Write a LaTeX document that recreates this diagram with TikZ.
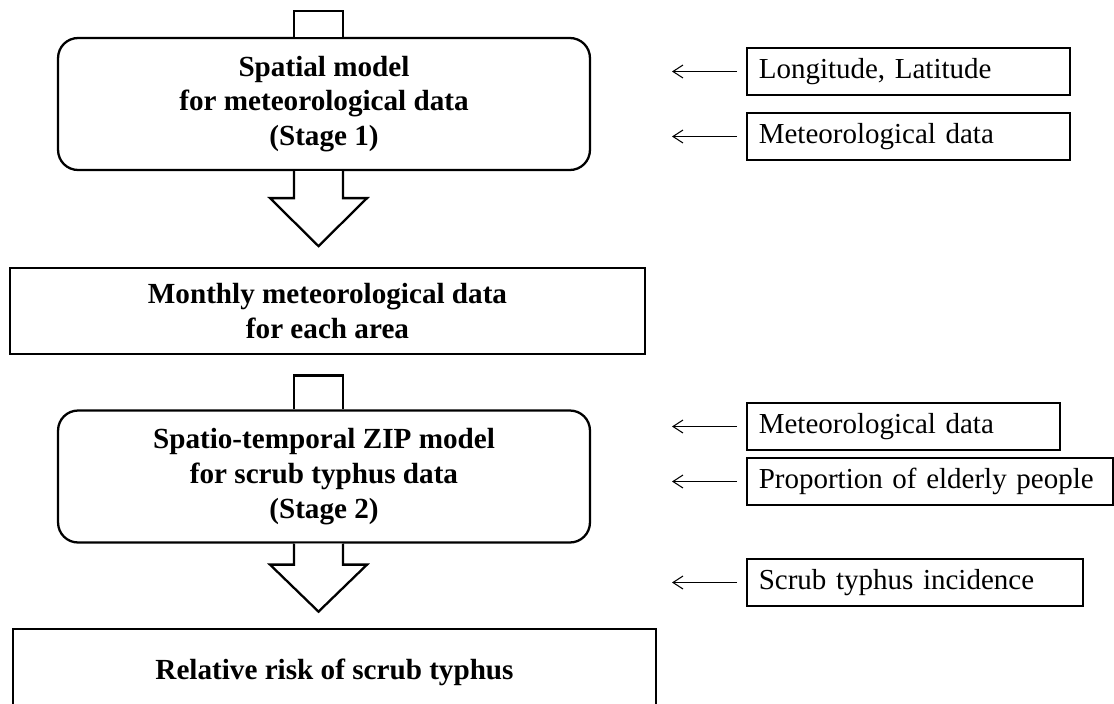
\documentclass[tikz,border=0pt]{standalone}
\usepackage{fontspec}
\setmainfont{Liberation Serif}
\usetikzlibrary{arrows.meta, positioning, calc}

\begin{document}
\begin{tikzpicture}[
  x=0.02cm, y=-0.02cm,
  stagebox/.style={draw, line width=1.3pt, rounded corners=0.4cm, fill=white, minimum width=10.64cm, minimum height=2.64cm, align=center, font=\bfseries\fontsize{16.6}{19.8}\selectfont},
  outbox/.style={draw, line width=1.3pt, fill=white, align=center, font=\bfseries\fontsize{16.6}{19.8}\selectfont},
  inbox/.style={draw, line width=0.9pt, text width=#1, inner xsep=0.24cm, minimum height=0.94cm, align=left, anchor=west, font=\fontsize{16.5}{19}\selectfont},
  hollow/.style={draw, line width=1.3pt, fill=white, line join=miter},
  inarrow/.style={-{Straight Barb[length=2mm, width=2.6mm]}, line width=0.6pt, shorten <=0.18cm}
]
\clip (0,0) rectangle (1114,703);

% Stage 1
\node[stagebox] (s1) at (324,104) {Spatial model\\for meteorological data\\(Stage 1)};
\node[outbox, minimum width=12.7cm, minimum height=1.72cm] (mon) at (327.5,311) {Monthly meteorological data\\for each area};

% Stage 2
\node[stagebox] (s2) at (324,476.5) {Spatio-temporal ZIP model\\for scrub typhus data\\(Stage 2)};
\node[outbox, minimum width=12.86cm, minimum height=1.72cm] (risk) at (334.5,672) {Relative risk of scrub typhus};

% Hollow block arrows
\draw[hollow] ([xshift=-0.6cm]s1.north) -- ++(0,-26) -- ++(49,0) -- ++(0,26);
\draw[hollow] ([xshift=-0.6cm]s1.south) -- ++(0,27) -- ++(-24,0) -- ++(48.5,48) -- ++(48.5,-48) -- ++(-24,0) -- ++(0,-27);
\draw[hollow] ([xshift=-0.6cm]s2.north) -- ++(0,-34) -- ++(49,0) -- ++(0,34);
\draw[hollow] ([xshift=-0.6cm]s2.south) -- ++(0,21) -- ++(-24,0) -- ++(48.5,47) -- ++(48.5,-47) -- ++(-24,0) -- ++(0,-21);

% Inputs
\node[inbox=5.98cm] (in1) at (746,71.5) {Longitude, Latitude};
\node[inbox=5.98cm] (in2) at (746,136.5) {Meteorological data};
\node[inbox=5.78cm] (in3) at (746,426.5) {Meteorological data};
\node[inbox=6.84cm] (in4) at (746,481.5) {Proportion of elderly people};
\node[inbox=6.24cm] (in5) at (746,582.5) {Scrub typhus incidence};

\coordinate[left=1.48cm of in1.west] (t1);
\coordinate[left=1.48cm of in2.west] (t2);
\coordinate[left=1.48cm of in3.west] (t3);
\coordinate[left=1.48cm of in4.west] (t4);
\coordinate[left=1.48cm of in5.west] (t5);

\draw[inarrow] (in1.west) -- (t1);
\draw[inarrow] (in2.west) -- (t2);
\draw[inarrow] (in3.west) -- (t3);
\draw[inarrow] (in4.west) -- (t4);
\draw[inarrow] (in5.west) -- (t5);
\end{tikzpicture}
\end{document}
